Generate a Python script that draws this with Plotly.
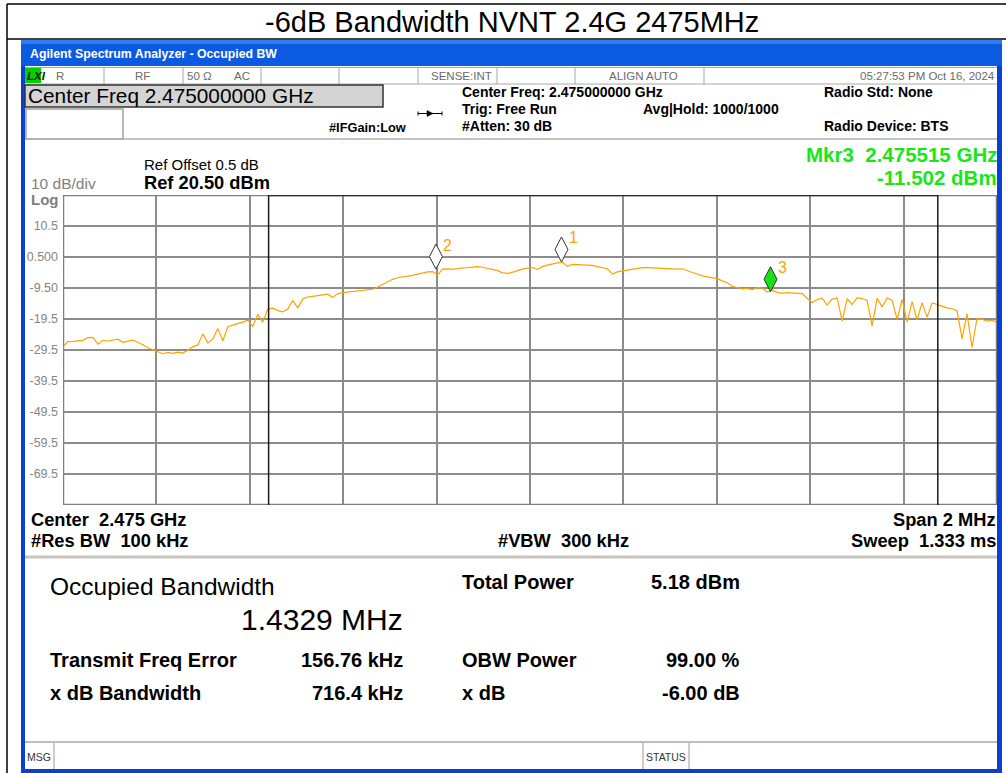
import numpy as np
import plotly.graph_objects as go

W, H = 1006, 773
FONT = "Liberation Sans, Arial, sans-serif"

# ---------------- data ----------------
chart_title = "-6dB Bandwidth NVNT 2.4G 2475MHz"
center_freq_ghz = 2.475
span_mhz = 2.0
ref_level_dbm = 20.5
db_per_div = 10
n_div = 10
ytick_values = [10.5, 0.5, -9.5, -19.5, -29.5, -39.5, -49.5, -59.5, -69.5]
ytick_labels = ["10.5", "0.500", "-9.50", "-19.5", "-29.5", "-39.5", "-49.5", "-59.5", "-69.5"]

# trace level (dBm) read across the span, left to right
trace_dbm = [
    -28.4, -26.8, -26.7, -26.6, -26.4, -25.5, -25.4, -27.6, -26.4, -26.6,
    -26.2, -26.0, -27.0, -26.6, -26.3, -27.1, -27.8, -28.8, -29.5, -30.1,
    -30.7, -30.3, -30.6, -30.2, -30.5, -29.6, -28.4, -27.9, -24.3, -27.2,
    -26.0, -22.6, -26.5, -22.0, -21.4, -21.0, -20.5, -19.9, -21.9, -18.0,
    -20.5, -16.3, -16.0, -16.8, -17.2, -16.3, -13.6, -15.9, -13.0, -12.4,
    -12.2, -12.0, -11.7, -11.5, -12.6, -11.3, -11.0, -10.8, -10.6, -10.5,
    -10.4, -10.1, -9.9, -9.2, -8.3, -7.5, -6.7, -6.2, -6.0, -5.8,
    -5.4, -5.0, -4.6, -4.3, -4.2, -5.3, -3.4, -3.3, -3.5, -3.2,
    -3.0, -2.9, -2.7, -2.6, -2.8, -3.1, -3.6, -3.9, -4.6, -4.8,
    -4.4, -3.8, -3.4, -3.1, -2.9, -3.5, -2.6, -2.1, -1.7, -1.4,
    -1.2, -2.5, -1.9, -2.0, -2.1, -2.3, -2.2, -2.6, -3.0, -3.3,
    -5.0, -4.3, -4.0, -3.7, -3.4, -3.1, -2.9, -2.9, -3.0, -3.1,
    -3.0, -3.2, -3.2, -3.4, -3.3, -4.0, -4.5, -5.0, -5.6, -5.9,
    -6.1, -6.5, -7.2, -7.8, -9.0, -9.3, -9.8, -9.6, -10.0, -9.4,
    -9.5, -10.8, -10.2, -10.9, -11.2, -11.0, -11.1, -11.0, -11.3, -12.8,
    -14.2, -13.2, -12.8, -15.0, -13.1, -12.7, -20.2, -12.9, -14.8, -12.6,
    -12.9, -13.5, -21.8, -12.8, -15.6, -12.7, -13.4, -19.6, -13.2, -20.5,
    -13.9, -19.8, -14.2, -18.9, -14.3, -14.8, -15.4, -15.9, -16.2, -16.8,
    -25.9, -17.8, -28.7, -19.3, -19.6, -20.2, -19.9, -20.6,
]

marker_ids = ["1", "2", "3"]
marker_freq_ghz = [2.4750674, 2.4747986, 2.475515]
marker_level_dbm = [-1.1, -3.4, -10.7]
marker_fill = ["white", "white", "#16E016"]

obw_mhz = 1.4329
freq_error_khz = 156.76
xdb_bw_khz = 716.4
total_power_dbm = 5.18
obw_power_pct = 99.00
xdb_db = -6.00
mkr3_readout_ghz = 2.475515
mkr3_readout_dbm = -11.502

# ---------------- derived ----------------
f_start = center_freq_ghz - span_mhz / 2 / 1000
f_stop = center_freq_ghz + span_mhz / 2 / 1000
freqs = np.linspace(f_start, f_stop, len(trace_dbm))
y_top = ref_level_dbm
y_bot = ref_level_dbm - db_per_div * n_div
xgrid = list(np.linspace(f_start, f_stop, n_div + 1)[1:-1])
obw_center = center_freq_ghz + freq_error_khz / 1e6
obw_lo = obw_center - obw_mhz / 2 / 1000
obw_hi = obw_center + obw_mhz / 2 / 1000


def px(x):
    return x / W


def py(y):
    return 1 - y / H


def txt(x, y, s, size, color="black", weight="normal", anchor="left"):
    return dict(x=px(x), y=py(y), xref="paper", yref="paper", text=s,
                showarrow=False, xanchor=anchor, yanchor="middle",
                font=dict(size=size, color=color, family=FONT, weight=weight))


def rect(x0, y0, x1, y1, fill=None, line=None, lw=0, layer="below"):
    return dict(type="rect", xref="paper", yref="paper",
                x0=px(x0), x1=px(x1), y0=py(y0), y1=py(y1),
                fillcolor=fill if fill else "rgba(0,0,0,0)",
                line=dict(color=line if line else "rgba(0,0,0,0)", width=lw),
                layer=layer)


def hline(x0, x1, y, color, lw, layer="below"):
    return dict(type="line", xref="paper", yref="paper", x0=px(x0), x1=px(x1),
                y0=py(y), y1=py(y), line=dict(color=color, width=lw), layer=layer)


def vline(x, y0, y1, color, lw, layer="below"):
    return dict(type="line", xref="paper", yref="paper", x0=px(x), x1=px(x),
                y0=py(y0), y1=py(y1), line=dict(color=color, width=lw), layer=layer)


fig = go.Figure()

fig.add_trace(go.Scatter(
    x=freqs, y=trace_dbm, mode="lines",
    line=dict(color="#FFA200", width=1.2), hoverinfo="skip", showlegend=False,
))

shapes = []
# outer page frame and title box
shapes.append(hline(7, 1010, 4, "black", 1.5))
shapes.append(hline(7, 1010, 39, "black", 1.5))
shapes.append(vline(7, 4, 775, "black", 1.5))
# window frame
shapes.append(rect(21, 40, 1002, 775, fill="#0842D4"))
shapes.append(rect(25, 66, 997, 769, fill="white"))
shapes.append(rect(21, 40, 1002, 66, fill="#0C5AE2"))
shapes.append(rect(21, 40, 1002, 44, fill="#2F7BF0"))
# status row
shapes.append(hline(25, 997, 67.5, "#A8A8A8", 1))
shapes.append(hline(25, 997, 84, "#A8A8A8", 1))
for xd in [104, 183, 261, 339, 418, 497, 575, 704]:
    shapes.append(vline(xd, 68, 84, "#A8A8A8", 1))
shapes.append(rect(25, 68, 41, 83, fill="#00D000"))
# center freq box + empty box
shapes.append(rect(25, 85, 383, 107, fill="#D4D4D4", line="#333333", lw=1.5))
shapes.append(rect(26, 109, 123, 139, fill="white", line="#A0A0A0", lw=1.5))
shapes.append(hline(25, 997, 139, "#B0B0B0", 1.5))
# trigger arrow glyph
shapes.append(hline(418, 442, 113.5, "black", 1))
shapes.append(dict(type="path", xref="paper", yref="paper",
                   path=f"M {px(427)},{py(110.5)} L {px(433)},{py(113.5)} L {px(427)},{py(116.5)} Z",
                   fillcolor="black", line=dict(color="black", width=0.5), layer="below"))
shapes.append(vline(418, 111.5, 115.5, "black", 1))
shapes.append(vline(442, 111.5, 115.5, "black", 1))
# lower separators
shapes.append(hline(25, 997, 557, "#C8C4BC", 3))
shapes.append(hline(25, 997, 742, "#C0BCB4", 2))
for xd in [54, 643, 689]:
    shapes.append(vline(xd, 743, 769, "#C0BCB4", 1.5))

# plot border (data coords)
shapes.append(dict(type="rect", xref="x", yref="y", x0=f_start, x1=f_stop, y0=y_bot, y1=y_top,
                   line=dict(color="#808080", width=2.5), fillcolor="rgba(0,0,0,0)", layer="above"))
# OBW bracket
for fx in [obw_lo, obw_hi]:
    shapes.append(dict(type="line", xref="x", yref="y", x0=fx, x1=fx, y0=y_bot, y1=y_top,
                       line=dict(color="#1A1A1A", width=1.5), layer="above"))
shapes.append(dict(type="line", xref="x", yref="y", x0=obw_lo, x1=obw_hi, y0=y_top, y1=y_top,
                   line=dict(color="#2A2A2A", width=2.5), layer="above"))

# marker diamonds (pixel sized, tip anchored on trace)
for f, lv, fc in zip(marker_freq_ghz, marker_level_dbm, marker_fill):
    shapes.append(dict(type="path", xref="x", yref="y", xsizemode="pixel", ysizemode="pixel",
                       xanchor=f, yanchor=lv,
                       path="M 0,0 L 6.5,12.5 L 0,25 L -6.5,12.5 Z",
                       fillcolor=fc, line=dict(color="#333333", width=1), layer="above"))

annotations = []
annotations.append(txt(512, 21.5, chart_title, 29, anchor="center"))
annotations.append(txt(28, 54, "Agilent Spectrum Analyzer - Occupied BW", 12.3, "white", "bold"))
annotations.append(txt(25, 76, "<i>LXI</i>", 11.5, "#002200", "bold"))
st = "#6A6A6A"
annotations.append(txt(54, 76, "R", 11.5, st))
annotations.append(txt(142, 76, "RF", 11.5, st, anchor="center"))
annotations.append(txt(199, 76, "50 Ω", 11.5, st, anchor="center"))
annotations.append(txt(242, 76, "AC", 11.5, st, anchor="center"))
annotations.append(txt(494, 76, "SENSE:INT", 11.5, st, anchor="right"))
annotations.append(txt(643, 76, "ALIGN AUTO", 11.5, st, anchor="center"))
annotations.append(txt(997, 76, "05:27:53 PM Oct 16, 2024", 11.5, st, anchor="right"))
annotations.append(txt(26, 96, f"Center Freq {center_freq_ghz:.9f} GHz", 20.8))
annotations.append(txt(460, 92, f"Center Freq: {center_freq_ghz:.9f} GHz", 14, weight="bold"))
annotations.append(txt(460, 109, "Trig: Free Run", 14, weight="bold"))
annotations.append(txt(460, 126, "#Atten: 30 dB", 14, weight="bold"))
annotations.append(txt(641, 109, "Avg|Hold: 1000/1000", 14, weight="bold"))
annotations.append(txt(822, 92, "Radio Std: None", 14, weight="bold"))
annotations.append(txt(822, 126, "Radio Device: BTS", 14, weight="bold"))
annotations.append(txt(327, 128, "#IFGain:Low", 12.8, weight="bold"))
annotations.append(txt(142, 165, "Ref Offset 0.5 dB", 15))
annotations.append(txt(142, 182, f"Ref {ref_level_dbm:.2f} dBm", 18.3, weight="bold"))
annotations.append(txt(29, 183, f"{db_per_div} dB/div", 15.5, "#808080"))
annotations.append(txt(29, 199, "Log", 15, "#808080", "bold"))
annotations.append(txt(999, 154.5, f"Mkr3  {mkr3_readout_ghz:.6f} GHz", 20.5, "#19E619", "bold", "right"))
annotations.append(txt(999, 177.5, f"{mkr3_readout_dbm:.3f} dBm", 20.5, "#19E619", "bold", "right"))
annotations.append(txt(29, 519, f"Center  {center_freq_ghz:.3f} GHz", 18.3, weight="bold"))
annotations.append(txt(29, 540, "#Res BW  100 kHz", 18.3, weight="bold"))
annotations.append(txt(496, 540, "#VBW  300 kHz", 18.3, weight="bold"))
annotations.append(txt(998, 519, f"Span {span_mhz:g} MHz", 18.3, weight="bold", anchor="right"))
annotations.append(txt(998, 540, "Sweep  1.333 ms", 18.3, weight="bold", anchor="right"))
annotations.append(txt(48, 586, "Occupied Bandwidth", 24.5))
annotations.append(txt(405, 619, f"{obw_mhz:.4f} MHz", 30, anchor="right"))
annotations.append(txt(460, 582, "Total Power", 20, weight="bold"))
annotations.append(txt(742, 582, f"{total_power_dbm:.2f} dBm", 20, weight="bold", anchor="right"))
annotations.append(txt(48, 660, "Transmit Freq Error", 20, weight="bold"))
annotations.append(txt(405, 660, f"{freq_error_khz:.2f} kHz", 20, weight="bold", anchor="right"))
annotations.append(txt(460, 660, "OBW Power", 20, weight="bold"))
annotations.append(txt(742, 660, f"{obw_power_pct:.2f} %", 20, weight="bold", anchor="right"))
annotations.append(txt(48, 693, "x dB Bandwidth", 20, weight="bold"))
annotations.append(txt(405, 693, f"{xdb_bw_khz:.1f} kHz", 20, weight="bold", anchor="right"))
annotations.append(txt(460, 693, "x dB", 20, weight="bold"))
annotations.append(txt(742, 693, f"{xdb_db:.2f} dB", 20, weight="bold", anchor="right"))
annotations.append(txt(25, 757, "MSG", 10.5, "#333333"))
annotations.append(txt(644, 757, "STATUS", 10.5, "#333333"))

for mid, f, lv in zip(marker_ids, marker_freq_ghz, marker_level_dbm):
    annotations.append(dict(x=f, y=lv, xref="x", yref="y", text=mid, showarrow=False,
                            xshift=12, yshift=24, xanchor="center", yanchor="middle",
                            font=dict(size=16, color="#FFA200", family=FONT)))

fig.update_layout(
    width=W, height=H,
    margin=dict(l=0, r=0, t=0, b=0),
    paper_bgcolor="white", plot_bgcolor="rgba(0,0,0,0)",
    showlegend=False,
    shapes=shapes, annotations=annotations,
    xaxis=dict(domain=[px(63), px(997)], range=[f_start, f_stop],
               tickvals=xgrid, showticklabels=False, ticks="",
               showgrid=True, gridcolor="#8C8C8C", gridwidth=1.5,
               zeroline=False, showline=False, fixedrange=True),
    yaxis=dict(domain=[py(505), py(195)], range=[y_bot, y_top],
               tickvals=ytick_values, ticktext=ytick_labels, ticks="",
               ticklabelstandoff=4,
               tickfont=dict(size=12.5, color="#858585", family=FONT),
               showgrid=True, gridcolor="#8C8C8C", gridwidth=1.5,
               zeroline=False, showline=False, fixedrange=True),
)

fig.write_html("out.html", config={"displayModeBar": False},
               post_script="document.body.style.margin='0';document.body.style.padding='0';")
